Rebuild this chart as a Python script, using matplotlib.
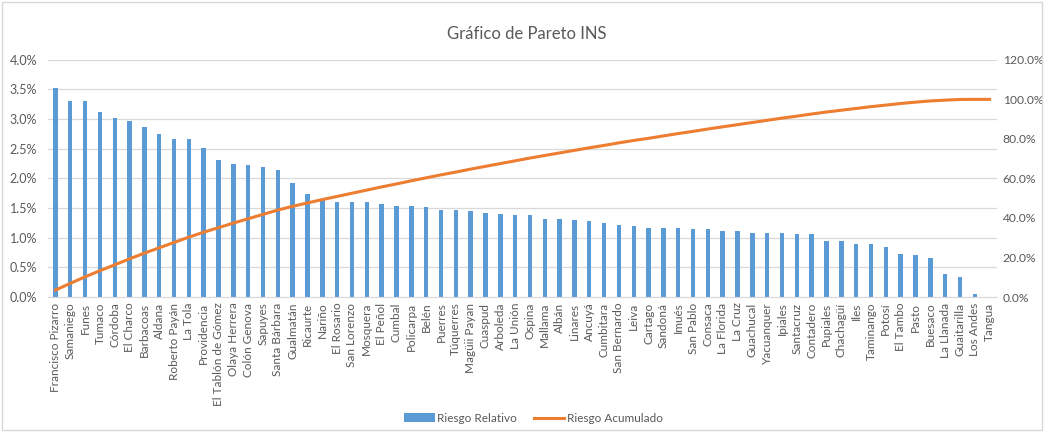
import numpy as np
import matplotlib
matplotlib.use("Agg")
from matplotlib import pyplot as plt
from matplotlib.patches import Rectangle
from matplotlib.ticker import FuncFormatter, MultipleLocator

plt.rcParams['font.family'] = ['Lato', 'DejaVu Sans']

municipios = [
    'Francisco Pizarro', 'Samaniego', 'Funes', 'Tumaco', 'Córdoba', 'El Charco',
    'Barbacoas', 'Aldana', 'Roberto Payán', 'La Tola', 'Providencia',
    'El Tablón de Gómez', 'Olaya Herrera', 'Colón Genova', 'Sapuyes',
    'Santa Bárbara', 'Gualmatán', 'Ricaurte', 'Nariño', 'El Rosario',
    'San Lorenzo', 'Mosquera', 'El Peñol', 'Cumbal', 'Policarpa', 'Belén',
    'Puerres', 'Túquerres', 'Magüii Payan', 'Cuaspud', 'Arboleda', 'La Unión',
    'Ospina', 'Mallama', 'Albán', 'Linares', 'Ancuyá', 'Cumbitara',
    'San Bernardo', 'Leiva', 'Cartago', 'Sandoná', 'Imués', 'San Pablo',
    'Consaca', 'La Florida', 'La Cruz', 'Guachucal', 'Yacuanquer', 'Ipiales',
    'Santacruz', 'Contadero', 'Pupiales', 'Chachagüí', 'Iles', 'Taminango',
    'Potosí', 'El Tambo', 'Pasto', 'Buesaco', 'La Llanada', 'Guaitarilla',
    'Los Andes', 'Tangua']

# riesgo relativo (%)
riesgo_relativo = [
    3.53, 3.31, 3.30, 3.12, 3.02, 2.97, 2.87, 2.75, 2.66, 2.66, 2.51,
    2.31, 2.25, 2.23, 2.20, 2.15, 1.93, 1.74, 1.64, 1.61, 1.61,
    1.60, 1.57, 1.54, 1.53, 1.52, 1.47, 1.46, 1.45, 1.42, 1.40, 1.39,
    1.38, 1.32, 1.31, 1.30, 1.28, 1.24, 1.21, 1.20, 1.17, 1.17, 1.16,
    1.15, 1.15, 1.12, 1.11, 1.08, 1.08, 1.08, 1.07, 1.07, 0.95, 0.94,
    0.90, 0.89, 0.84, 0.72, 0.71, 0.65, 0.38, 0.34, 0.05, 0.0]

# riesgo acumulado (%)
riesgo_acumulado = [
    3.5, 6.9, 10.2, 13.3, 16.3, 19.3, 22.2, 24.9, 27.6, 30.3, 32.8,
    35.1, 37.4, 39.6, 41.8, 44.0, 45.9, 47.6, 49.3, 50.9, 52.5,
    54.1, 55.7, 57.2, 58.8, 60.3, 61.8, 63.2, 64.7, 66.1, 67.5, 68.9,
    70.3, 71.6, 72.9, 74.2, 75.5, 76.7, 78.0, 79.2, 80.3, 81.5, 82.7,
    83.8, 85.0, 86.1, 87.2, 88.3, 89.4, 90.5, 91.5, 92.6, 93.6, 94.5,
    95.4, 96.3, 97.1, 97.9, 98.6, 99.2, 99.6, 99.95, 100.0, 100.0]

blue = '#5B9BD5'
orange = '#ED7D31'
grid = '#D9D9D9'
txt = '#595959'

fig = plt.figure(figsize=(10.44, 4.32), dpi=100)
ax = fig.add_axes([0.046, 0.3125, 0.909, 0.549])
ax2 = ax.twinx()

x = np.arange(len(municipios))
ax.bar(x, riesgo_relativo, width=0.3, color=blue, label='Riesgo Relativo', zorder=2)
ax2.plot(x, riesgo_acumulado, color=orange, lw=2.2, label='Riesgo Acumulado', zorder=3)

ax.set_xlim(-0.5, len(municipios) - 0.5)
ax.set_ylim(0, 4.0)
ax2.set_ylim(0, 120)
ax.yaxis.set_major_locator(MultipleLocator(0.5))
ax2.yaxis.set_major_locator(MultipleLocator(20))
ax.yaxis.set_major_formatter(FuncFormatter(lambda v, p: f'{v:.1f}%'))
ax2.yaxis.set_major_formatter(FuncFormatter(lambda v, p: f'{v:.1f}%'))
ax.grid(axis='y', color=grid, lw=0.9, zorder=0)
ax.set_axisbelow(True)

ax.set_xticks(x)
ax.set_xticklabels(municipios, rotation=90, fontsize=8.5, color=txt)
ax.tick_params(axis='y', length=0, labelsize=9, colors=txt, pad=8)
ax2.tick_params(axis='y', length=0, labelsize=8.7, colors=txt, pad=4)
ax.tick_params(axis='x', length=0, pad=4)
for a in (ax, ax2):
    for s in a.spines.values():
        s.set_visible(False)
ax.spines['bottom'].set_visible(True)
ax.spines['bottom'].set_color(grid)

fig.suptitle('Gráfico de Pareto INS', x=0.505, y=0.94, fontsize=12, color=txt)

h1, l1 = ax.get_legend_handles_labels()
h2, l2 = ax2.get_legend_handles_labels()
fig.legend(h1 + h2, l1 + l2, loc='center', bbox_to_anchor=(0.511, 0.032), ncol=2,
           frameon=False, fontsize=8.5, labelcolor=txt, handlelength=2.6,
           columnspacing=1.4, handletextpad=0.2)

fig.patches.append(Rectangle((0.002, 0.004), 0.996, 0.992, transform=fig.transFigure,
                             fill=False, edgecolor=grid, lw=1))

fig.savefig('out.png', dpi=100)
